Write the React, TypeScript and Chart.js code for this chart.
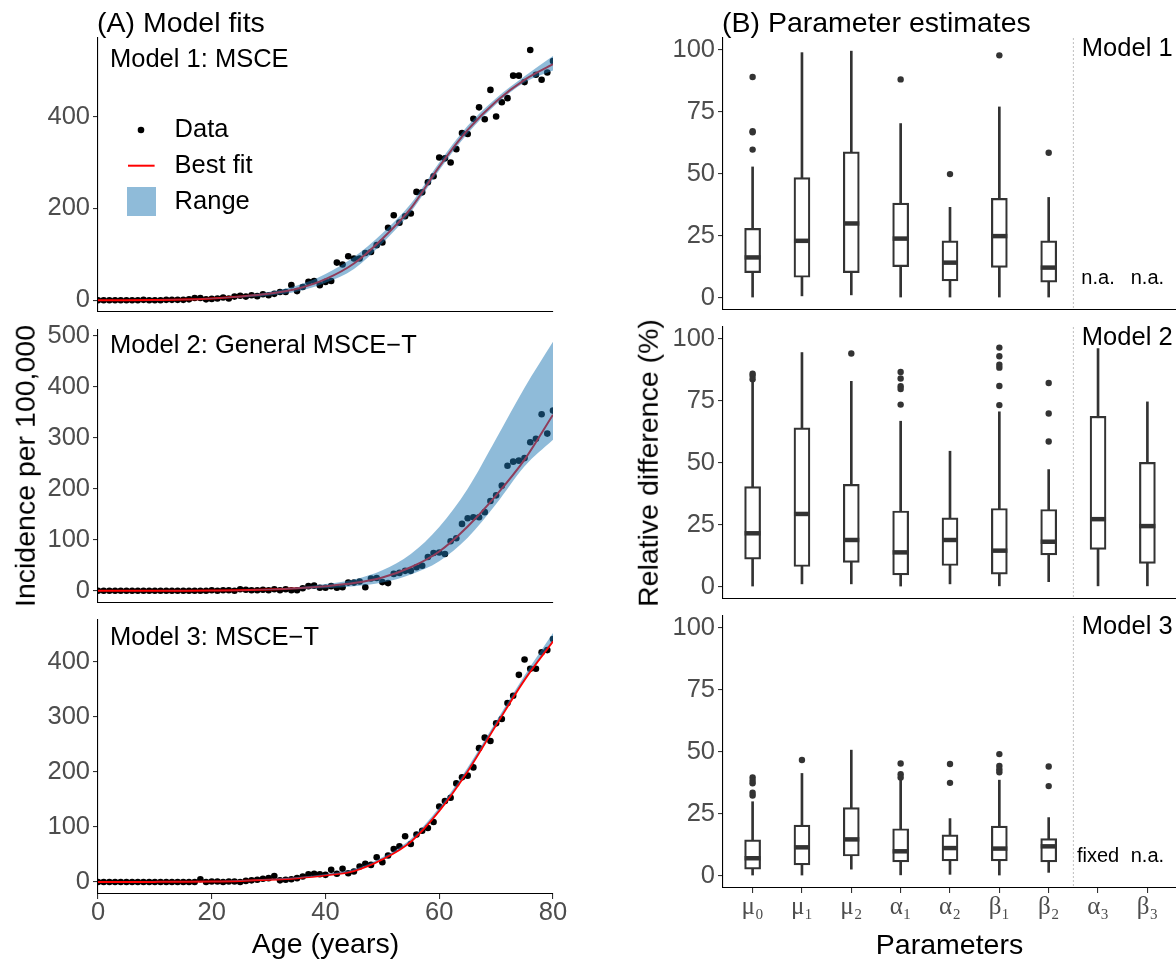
import React, { useEffect, useRef } from 'react';
import { Chart, registerables } from 'chart.js';

Chart.register(...registerables);

const SANS = '"Liberation Sans", Arial, Helvetica, sans-serif';
const SERIF = '"Liberation Serif", "DejaVu Serif", serif';
const BAND = 'rgba(31,119,180,0.5)';
const TICK_GREY = '#4D4D4D';
const BOX_GREY = '#333333';

// ---------- (A) Model fits ----------
const AGES = [
  0, 1, 2, 3, 4, 5, 6, 7, 8, 9, 10, 11, 12, 13, 14, 15, 16, 17, 18, 19, 20,
  21, 22, 23, 24, 25, 26, 27, 28, 29, 30, 31, 32, 33, 34, 35, 36, 37, 38, 39, 40,
  41, 42, 43, 44, 45, 46, 47, 48, 49, 50, 51, 52, 53, 54, 55, 56, 57, 58, 59, 60,
  61, 62, 63, 64, 65, 66, 67, 68, 69, 70, 71, 72, 73, 74, 75, 76, 77, 78, 79, 80,
];
const CURVE_AGES = [0, 5, 10, 15, 20, 25, 30, 35, 40, 45, 50, 55, 60, 65, 70, 75, 80];
const AGE_TICKS = [0, 20, 40, 60, 80];

const M1_DATA = [
  0, 0, 0, 0, 0, 0, 0, 0, 1, 0, 0, 0, 1, 1, 1, 1, 2, 5, 5, 2, 3,
  4, 6, 4, 8, 10, 8, 11, 9, 13, 11, 14, 18, 18, 33, 20, 29, 40, 42, 33, 40,
  42, 82, 78, 96, 91, 91, 103, 105, 120, 126, 158, 185, 169, 183, 189, 236, 235, 257, 270, 311,
  309, 300, 329, 364, 362, 395, 420, 394, 458, 400, 431, 440, 489, 489, 475, 545, 491, 480, 496, 521,
];
const M1_FIT = [0, 0, 0.5, 1.5, 4, 8, 14, 25, 46, 80, 134, 200, 291, 371, 433, 480, 514];
const M1_LOWER = [0, 0, 0.3, 1, 3, 6, 10, 19, 38, 68, 124, 192, 283, 363, 427, 474, 500];
const M1_UPPER = [0, 0, 0.8, 2, 5, 10, 18, 32, 57, 94, 146, 210, 300, 380, 440, 488, 532];

const M2_DATA = [
  0, 0, 0, 0, 0, 0, 0, 0, 0, 0, 0, 0, 0, 0, 0, 0, 0, 0, 0, 0, 1,
  0, 1, 1, 0, 3, 2, 1, 1, 2, 1, 3, 1, 3, 1, 1, 5, 9, 10, 6, 6,
  9, 6, 7, 16, 16, 18, 7, 24, 25, 17, 15, 33, 35, 39, 39, 46, 49, 66, 74, 75,
  72, 97, 103, 131, 142, 144, 144, 154, 176, 187, 206, 245, 253, 255, 260, 291, 298, 346, 308, 353,
];
const M2_FIT = [0, 0, 0, 0.2, 0.5, 1, 2.5, 5, 9, 15, 26, 46, 77, 126, 187, 257, 345];
const M2_LOWER = [0, 0, 0, 0, 0.3, 0.7, 1.5, 3, 5, 9, 16, 32, 58, 104, 170, 244, 296];
const M2_UPPER = [0, 0, 0, 0.3, 0.8, 1.5, 3.5, 7, 13, 22, 40, 72, 125, 200, 298, 398, 488];

const M3_DATA = [
  0, 0, 0, 0, 0, 0, 0, 0, 0, 0, 0, 0, 0, 0, 0, 0, 0, 0, 5, 0, 1,
  1, 0, 1, 1, 0, 2, 3, 4, 6, 7, 11, 3, 4, 5, 7, 10, 14, 15, 14, 13,
  22, 15, 24, 16, 19, 28, 33, 31, 45, 36, 48, 60, 65, 83, 69, 86, 93, 98, 109, 137,
  147, 153, 179, 190, 193, 208, 243, 262, 256, 288, 296, 325, 338, 376, 404, 387, 387, 417, 421, 441,
];
const M3_FIT = [0, 0, 0.2, 0.5, 1, 2, 4, 7, 12, 20, 41, 73, 129, 201, 285, 367, 437];
const M3_LOWER = [0, 0, 0.2, 0.5, 1, 2, 4, 7, 12.5, 21, 42.5, 75, 131, 203, 287, 369, 439];
const M3_UPPER = [0, 0, 0.4, 0.8, 1.5, 3, 5.5, 9, 14.5, 23.5, 45, 78, 135, 208, 292, 375, 452];

const M1_YTICKS = [0, 200, 400];
const M2_YTICKS = [0, 100, 200, 300, 400, 500];
const M3_YTICKS = [0, 100, 200, 300, 400];

// ---------- (B) Parameter estimates ----------
const PARAMS = ['μ₀', 'μ₁', 'μ₂', 'α₁', 'α₂', 'β₁', 'β₂', 'α₃', 'β₃'];
const PCT_TICKS = [0, 25, 50, 75, 100];
const PARAM_TICKS = [0, 1, 2, 3, 4, 5, 6, 7, 8];

const B1_LO = [0, 0.7, 1.1, 0, 0, 0, 0];
const B1_Q1 = [10.1, 8.2, 10.1, 12.5, 6.7, 12.2, 6.2];
const B1_MED = [16.2, 22.9, 29.9, 23.8, 14.1, 24.8, 12.1];
const B1_Q3 = [27.9, 48.4, 58.8, 38.1, 22.9, 40.0, 22.9];
const B1_HI = [52.7, 98.8, 99.4, 70.2, 36.4, 76.9, 40.4];
const B1_OUT = [[89, 67.1, 66.7, 59.7], [], [], [88], [49.8], [97.7], [58.4]];

const B2_LO = [0, 1.1, 1.1, 0, 1.1, 0.3, 2, 0.3, 0.3];
const B2_Q1 = [11.1, 8.1, 9.8, 4.7, 8.5, 5, 12.8, 15, 9.4];
const B2_MED = [21.5, 29.3, 18.8, 13.8, 18.8, 14.5, 18.1, 27.2, 24.4];
const B2_Q3 = [40.3, 64, 41.2, 30.5, 27.7, 31.5, 31.1, 68.7, 50.1];
const B2_HI = [82.6, 94.4, 82.8, 66.7, 54.6, 70.5, 47.2, 96, 74.5];
const B2_OUT = [
  [85.9, 85, 83.6], [], [94], [86.6, 83.9, 80.8, 79.7, 73.4], [],
  [96.4, 92.9, 89.5, 88.3, 80.9, 73.2], [82.1, 69.8, 58.5], [], [],
];

const B3_LO = [0, 0, 2.6, 0.3, 0.5, 0, 1.3];
const B3_Q1 = [2.6, 4.3, 7.9, 5.5, 5.9, 5.9, 5.5];
const B3_MED = [7, 11.4, 14.6, 9.8, 11.1, 10.9, 11.8];
const B3_Q3 = [14.4, 20.4, 27.4, 18.9, 16.4, 20, 14.9];
const B3_HI = [29.8, 41.2, 50.6, 38.5, 23, 38.5, 23.4];
const B3_OUT = [[39.6, 38.3, 37.2, 33.4, 32.3], [46.6], [], [45.2, 40.9, 39.6], [45, 37.4], [49, 44.2, 42.8, 41.7], [44, 36.1]];

// ---------- helpers ----------
function zeroPad(s: any) {
  s.paddingLeft = 0; s.paddingRight = 0; s.paddingTop = 0; s.paddingBottom = 0;
}

function leftConfig(p: any) {
  const pts = (arr: number[], xs: number[]) => arr.map((v, i) => ({ x: xs[i], y: v }));
  const plugin = {
    id: 'leftAnno',
    afterDraw(chart: any) {
      const { ctx, chartArea: a } = chart;
      ctx.save();
      ctx.fillStyle = '#000';
      ctx.font = `25.5px ${SANS}`;
      ctx.textAlign = 'left';
      ctx.textBaseline = 'alphabetic';
      ctx.fillText(p.title, a.left + 12, a.top + p.titleDy);
      if (p.legend) {
        ctx.textBaseline = 'middle';
        ctx.beginPath();
        ctx.arc(a.left + 43, a.top + 92, 3.3, 0, Math.PI * 2);
        ctx.fill();
        ctx.fillText('Data', a.left + 76.6, a.top + 92);
        ctx.strokeStyle = '#FF0000';
        ctx.lineWidth = 2;
        ctx.beginPath();
        ctx.moveTo(a.left + 30, a.top + 127.7);
        ctx.lineTo(a.left + 56.6, a.top + 127.7);
        ctx.stroke();
        ctx.fillText('Best fit', a.left + 76.6, a.top + 127.7);
        ctx.fillStyle = BAND;
        ctx.fillRect(a.left + 29, a.top + 149, 29, 29);
        ctx.fillStyle = '#000';
        ctx.fillText('Range', a.left + 76.6, a.top + 163.7);
      }
      ctx.restore();
    },
  };
  return {
    type: 'line',
    data: {
      datasets: [
        {
          label: 'Range (upper)', data: pts(p.upper, CURVE_AGES), fill: '+1', backgroundColor: BAND,
          borderColor: 'rgba(0,0,0,0)', borderWidth: 0, pointRadius: 0, cubicInterpolationMode: 'monotone', order: 0,
        },
        {
          label: 'Range (lower)', data: pts(p.lower, CURVE_AGES), fill: false,
          borderColor: 'rgba(0,0,0,0)', borderWidth: 0, pointRadius: 0, cubicInterpolationMode: 'monotone', order: 0,
        },
        {
          label: 'Best fit', data: pts(p.fit, CURVE_AGES), fill: false, borderColor: '#FF0000', borderWidth: 2,
          pointRadius: 0, cubicInterpolationMode: 'monotone', order: 1,
        },
        {
          label: 'Data', data: pts(p.data, AGES), showLine: false, pointRadius: 3.3, pointBackgroundColor: '#000',
          pointBorderWidth: 0, pointBorderColor: '#000', order: 2, clip: 0,
        },
      ],
    },
    options: {
      responsive: false,
      animation: false,
      devicePixelRatio: 1,
      events: [],
      layout: { autoPadding: false, padding: { left: 0, right: 27, top: p.padTop, bottom: 0 } },
      plugins: { legend: { display: false }, tooltip: { enabled: false }, filler: { drawTime: 'beforeDatasetDraw' } },
      scales: {
        x: {
          type: 'linear', min: 0, max: 80, offset: false, position: 'bottom',
          border: { display: true, color: '#000', width: 1.1 },
          grid: { display: true, drawOnChartArea: false, drawTicks: p.bottom, tickLength: 5, color: BOX_GREY, lineWidth: 1.1, offset: false },
          ticks: { display: p.bottom, color: TICK_GREY, font: { family: SANS, size: 25.5, lineHeight: 1.2 }, padding: -1, maxRotation: 0, autoSkip: false },
          afterBuildTicks: (s: any) => { s.ticks = AGE_TICKS.map((v) => ({ value: v })); },
          afterFit: (s: any) => { s.height = p.bottom ? 40 : 0; zeroPad(s); },
        },
        y: {
          type: 'linear', min: p.ymin, max: p.ymax,
          border: { display: true, color: '#000', width: 1.1 },
          grid: { display: true, drawOnChartArea: false, drawTicks: true, tickLength: 5, color: BOX_GREY, lineWidth: 1.1 },
          ticks: { color: TICK_GREY, font: { family: SANS, size: 25.5 }, padding: 3, autoSkip: false },
          afterBuildTicks: (s: any) => { s.ticks = p.yticks.map((v: number) => ({ value: v })); },
          afterFit: (s: any) => { s.width = 98; zeroPad(s); },
        },
      },
    },
    plugins: [plugin],
  };
}

function rightConfig(p: any) {
  const idx = p.lo.map((_: number, i: number) => i);
  const plugin = {
    id: 'rightAnno',
    beforeDatasetsDraw(chart: any) {
      const { ctx, chartArea: a, scales } = chart;
      const x = scales.x.getPixelForValue(6.5);
      ctx.save();
      ctx.strokeStyle = '#BEBEBE';
      ctx.lineWidth = 1;
      ctx.setLineDash([2, 2]);
      ctx.beginPath();
      ctx.moveTo(x, a.top);
      ctx.lineTo(x, a.bottom);
      ctx.stroke();
      ctx.restore();
    },
    afterDraw(chart: any) {
      const { ctx, chartArea: a, scales } = chart;
      ctx.save();
      ctx.fillStyle = '#000';
      ctx.font = `25.5px ${SANS}`;
      ctx.textAlign = 'left';
      ctx.textBaseline = 'alphabetic';
      ctx.fillText(p.title, scales.x.getPixelForValue(6.5) + 8.5, a.top + p.titleDy);
      ctx.font = `20px ${SANS}`;
      ctx.textAlign = 'center';
      const y0 = scales.y.getPixelForValue(0) - 14;
      p.notes.forEach((nt: any) => {
        ctx.fillText(nt[1], scales.x.getPixelForValue(nt[0]), y0);
      });
      ctx.restore();
    },
  };
  const outliers: any[] = [];
  p.out.forEach((vals: number[], i: number) => vals.forEach((v) => outliers.push({ x: i, y: v })));
  return {
    type: 'bar',
    data: {
      datasets: [
        {
          label: 'whisker', data: idx.map((i: number) => ({ x: i, y: [p.lo[i], p.hi[i]] })),
          backgroundColor: BOX_GREY, borderWidth: 0, barThickness: 2, grouped: false, order: 3,
        },
        {
          label: 'box', data: idx.map((i: number) => ({ x: i, y: [p.q1[i], p.q3[i]] })),
          backgroundColor: '#FFFFFF', borderColor: BOX_GREY, borderWidth: 2.2, borderSkipped: false,
          barThickness: 16, grouped: false, order: 2,
        },
        {
          type: 'scatter', label: 'median', data: idx.map((i: number) => ({ x: i, y: p.med[i] })),
          pointStyle: 'line', pointRadius: 8, pointBorderWidth: 4.5, pointBorderColor: BOX_GREY, order: 1,
        },
        {
          type: 'scatter', label: 'outliers', data: outliers, pointRadius: 3.2,
          pointBackgroundColor: BOX_GREY, pointBorderWidth: 0, pointBorderColor: BOX_GREY, order: 0,
        },
      ],
    },
    options: {
      responsive: false,
      animation: false,
      devicePixelRatio: 1,
      events: [],
      layout: { autoPadding: false, padding: { left: 0, right: 0, top: p.padTop, bottom: 0 } },
      plugins: { legend: { display: false }, tooltip: { enabled: false } },
      scales: {
        x: {
          type: 'linear', min: -0.6, max: 8.6, offset: false, position: 'bottom',
          border: { display: true, color: '#000', width: 1.1 },
          grid: { display: true, drawOnChartArea: false, drawTicks: p.bottom, tickLength: 5, color: BOX_GREY, lineWidth: 1.1, offset: false },
          ticks: {
            display: p.bottom, color: TICK_GREY, font: { family: SERIF, size: 25, lineHeight: 1.2 }, padding: -1,
            maxRotation: 0, autoSkip: false, callback: (v: number) => PARAMS[v],
          },
          afterBuildTicks: (s: any) => { s.ticks = PARAM_TICKS.map((v) => ({ value: v })); },
          afterFit: (s: any) => { s.height = p.bottom ? 45 : 0; zeroPad(s); },
        },
        y: {
          type: 'linear', min: -5, max: 104.7,
          border: { display: true, color: '#000', width: 1.1 },
          grid: { display: true, drawOnChartArea: false, drawTicks: true, tickLength: 5, color: BOX_GREY, lineWidth: 1.1 },
          ticks: { color: TICK_GREY, font: { family: SANS, size: 25.5 }, padding: 3, autoSkip: false },
          afterBuildTicks: (s: any) => { s.ticks = PCT_TICKS.map((v) => ({ value: v })); },
          afterFit: (s: any) => { s.width = 103; zeroPad(s); },
        },
      },
    },
    plugins: [plugin],
  };
}

function ChartCanvas(props: { make: () => any; left: number; top: number; width: number; height: number }) {
  const ref = useRef<HTMLCanvasElement>(null);
  useEffect(() => {
    const chart = new Chart(ref.current as HTMLCanvasElement, props.make());
    return () => chart.destroy();
  }, []);
  return (
    <canvas
      ref={ref}
      width={props.width}
      height={props.height}
      style={{ position: 'absolute', left: props.left, top: props.top, width: props.width, height: props.height }}
    />
  );
}

const textBase: any = { position: 'absolute', fontFamily: SANS, color: '#000', lineHeight: 1, whiteSpace: 'nowrap' };

export default function App() {
  return (
    <div style={{ position: 'absolute', left: 0, top: 0, width: 1176, height: 962, overflow: 'hidden', background: '#fff' }}>
      <ChartCanvas left={0} top={18} width={580} height={294}
        make={() => leftConfig({ title: 'Model 1: MSCE', titleDy: 28.7, legend: true, data: M1_DATA, fit: M1_FIT, lower: M1_LOWER, upper: M1_UPPER, ymin: -25.5, ymax: 571, yticks: M1_YTICKS, bottom: false, padTop: 20 })} />
      <ChartCanvas left={0} top={310} width={580} height={293}
        make={() => leftConfig({ title: 'Model 2: General MSCE\u2212T', titleDy: 23.3, legend: false, data: M2_DATA, fit: M2_FIT, lower: M2_LOWER, upper: M2_UPPER, ymin: -24, ymax: 511, yticks: M2_YTICKS, bottom: false, padTop: 20 })} />
      <ChartCanvas left={0} top={600} width={580} height={334}
        make={() => leftConfig({ title: 'Model 3: MSCE\u2212T', titleDy: 25, legend: false, data: M3_DATA, fit: M3_FIT, lower: M3_LOWER, upper: M3_UPPER, ymin: -21.8, ymax: 475.6, yticks: M3_YTICKS, bottom: true, padTop: 20 })} />

      <ChartCanvas left={620} top={18} width={557} height={292}
        make={() => rightConfig({ title: 'Model 1', titleDy: 17.5, lo: B1_LO, q1: B1_Q1, med: B1_MED, q3: B1_Q3, hi: B1_HI, out: B1_OUT, notes: [[7, 'n.a.'], [8, 'n.a.']], bottom: false, padTop: 20 })} />
      <ChartCanvas left={620} top={307} width={557} height={292}
        make={() => rightConfig({ title: 'Model 2', titleDy: 18.3, lo: B2_LO, q1: B2_Q1, med: B2_MED, q3: B2_Q3, hi: B2_HI, out: B2_OUT, notes: [], bottom: false, padTop: 20 })} />
      <ChartCanvas left={620} top={596} width={557} height={337}
        make={() => rightConfig({ title: 'Model 3', titleDy: 18, lo: B3_LO, q1: B3_Q1, med: B3_MED, q3: B3_Q3, hi: B3_HI, out: B3_OUT, notes: [[7, 'fixed'], [8, 'n.a.']], bottom: true, padTop: 20 })} />

      <div style={{ ...textBase, left: 97, top: 8, fontSize: 28.5 }}>(A) Model fits</div>
      <div style={{ ...textBase, left: 722, top: 8, fontSize: 28.5 }}>(B) Parameter estimates</div>
      <div style={{ ...textBase, left: 25.2, top: 466, fontSize: 28.5, transform: 'translate(-50%,-50%) rotate(-90deg)' }}>Incidence per 100,000</div>
      <div style={{ ...textBase, left: 647.6, top: 462.5, fontSize: 28.5, transform: 'translate(-50%,-50%) rotate(-90deg)' }}>Relative difference (%)</div>
      <div style={{ ...textBase, left: 325.5, top: 929, fontSize: 28.5, transform: 'translateX(-50%)' }}>Age (years)</div>
      <div style={{ ...textBase, left: 949.5, top: 930, fontSize: 28.5, transform: 'translateX(-50%)' }}>Parameters</div>
    </div>
  );
}
